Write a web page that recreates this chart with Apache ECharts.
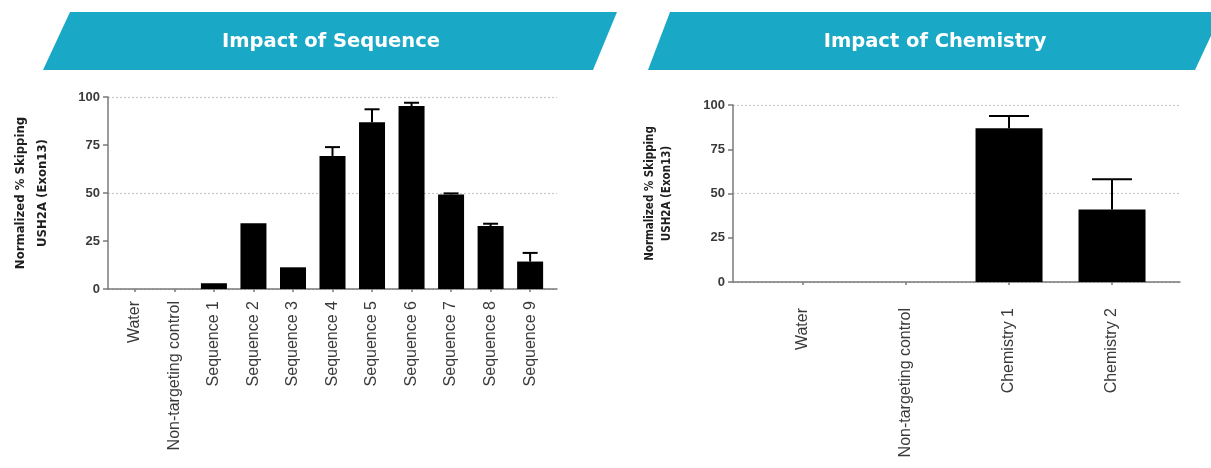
<!DOCTYPE html>
<html>
<head>
<meta charset="utf-8">
<script src="https://cdn.jsdelivr.net/npm/echarts@6/dist/echarts.min.js"></script>
<style>
  html, body { margin: 0; padding: 0; background: #fff; }
  #chart { width: 1211px; height: 468px; }
</style>
</head>
<body>
<div id="chart"></div>
<script>
// Panel titles
const panelTitles = ['Impact of Sequence', 'Impact of Chemistry'];
const yAxisTitle = 'Normalized % Skipping\nUSH2A (Exon13)';
const yTicks = [0, 25, 50, 75, 100];

// Left panel: sequence screen (mean and SEM, % skipping)
const seqCategories = ['Water', 'Non-targeting control', 'Sequence 1', 'Sequence 2', 'Sequence 3',
  'Sequence 4', 'Sequence 5', 'Sequence 6', 'Sequence 7', 'Sequence 8', 'Sequence 9'];
const seqMeans = [0, 0, 3.0, 34.2, 11.3, 69.3, 86.8, 95.3, 49.2, 32.8, 14.3];
const seqErrors = [0, 0, 0, 0, 0, 4.6, 6.8, 1.7, 0.6, 1.2, 4.5];

// Right panel: chemistry comparison
const chemCategories = ['Water', 'Non-targeting control', 'Chemistry 1', 'Chemistry 2'];
const chemMeans = [0, 0, 86.8, 40.9];
const chemErrors = [0, 0, 7.0, 17.2];

const teal = '#19a8c5';
const axisGrey = '#7a7a7a';
const narrowFont = '"DejaVu Sans Condensed", "Liberation Sans Narrow", "Liberation Sans", sans-serif';
const labelFont = '"Liberation Sans", Arial, sans-serif';

const chart = echarts.init(document.getElementById('chart'), null, { renderer: 'canvas' });

function indexList(cats) { return cats.map((_, i) => i); }

function xAxisFor(gridIndex, cats, maxPad, margin) {
  const idx = indexList(cats);
  return {
    type: 'value', gridIndex: gridIndex,
    min: -0.68, max: cats.length - 1 + maxPad,
    axisLine: { show: true, onZero: false, lineStyle: { color: axisGrey, width: 1.5 } },
    axisTick: { show: true, customValues: idx, length: 3, lineStyle: { color: axisGrey, width: 1.5 } },
    axisLabel: {
      show: true, customValues: idx, rotate: 90, margin: margin,
      formatter: v => cats[Math.round(v)] || '',
      fontFamily: labelFont, fontSize: 16, color: '#3a3a3a'
    },
    splitLine: { show: false }
  };
}

function yAxisFor(gridIndex, nameSize, nameLine, nameGap) {
  return {
    type: 'value', gridIndex: gridIndex, min: yTicks[0], max: yTicks[yTicks.length - 1], interval: 25,
    name: yAxisTitle, nameLocation: 'middle', nameRotate: 90, nameGap: nameGap,
    nameTextStyle: { fontFamily: narrowFont, fontWeight: 'bold', fontSize: nameSize, lineHeight: nameLine, color: '#1e1e1e', align: 'center' },
    axisLine: { show: true, onZero: false, lineStyle: { color: axisGrey, width: 1.5 } },
    axisTick: { show: true, length: 5, lineStyle: { color: axisGrey, width: 1.5 } },
    axisLabel: { fontFamily: labelFont, fontWeight: 'bold', fontSize: 13, color: '#3a3a3a', margin: 8 },
    splitLine: { show: false }
  };
}

// Hidden companion axis that only draws the dotted guide lines at 50 and 100
function guideAxisFor(gridIndex) {
  return {
    type: 'value', gridIndex: gridIndex, min: 0, max: 100, interval: 50,
    axisLine: { show: false }, axisTick: { show: false }, axisLabel: { show: false },
    splitLine: { show: true, lineStyle: { color: '#c8c8c8', type: [2, 2], width: 1.2 } }
  };
}

function barSeries(axisIdx, means, width) {
  return {
    type: 'bar', xAxisIndex: axisIdx, yAxisIndex: axisIdx * 2,
    data: means.map((v, i) => [i, v]),
    barWidth: width,
    itemStyle: { color: '#000' },
    z: 3
  };
}

function errorSeries(axisIdx, means, errs, capWidth) {
  return {
    type: 'custom', xAxisIndex: axisIdx, yAxisIndex: axisIdx * 2,
    data: means.map((v, i) => [i, v, v + errs[i]]),
    encode: { x: 0, y: [1, 2] },
    z: 4,
    renderItem: function (params, api) {
      const i = api.value(0), lo = api.value(1), hi = api.value(2);
      if (hi <= lo) return null;
      const a = api.coord([i, lo]);
      const b = api.coord([i, hi]);
      const style = { stroke: '#000', lineWidth: 2 };
      return {
        type: 'group',
        children: [
          { type: 'line', shape: { x1: a[0], y1: a[1], x2: b[0], y2: b[1] }, style: style },
          { type: 'line', shape: { x1: b[0] - capWidth / 2, y1: b[1], x2: b[0] + capWidth / 2, y2: b[1] }, style: style }
        ]
      };
    }
  };
}

function banner(pts, cx, text) {
  return [
    { type: 'polygon', shape: { points: pts }, style: { fill: teal }, z: 1 },
    { type: 'text', x: cx, y: 42, z: 2,
      style: { text: text, fill: '#fff', font: 'bold 19.5px "DejaVu Sans", Verdana, sans-serif', textAlign: 'center', textVerticalAlign: 'middle' } }
  ];
}

const option = {
  animation: false,
  backgroundColor: '#fff',
  grid: [
    { left: 108, right: 1211 - 557, top: 97, bottom: 468 - 289, containLabel: false },
    { left: 733, right: 1211 - 1180, top: 105, bottom: 468 - 282, containLabel: false }
  ],
  xAxis: [
    xAxisFor(0, seqCategories, 0.68, 12),
    xAxisFor(1, chemCategories, 0.66, 26)
  ],
  yAxis: [
    yAxisFor(0, 13, 22, 54),
    guideAxisFor(0),
    yAxisFor(1, 11.5, 17, 57),
    guideAxisFor(1)
  ],
  series: [
    barSeries(0, seqMeans, 26),
    errorSeries(0, seqMeans, seqErrors, 15),
    barSeries(1, chemMeans, 67),
    errorSeries(1, chemMeans, chemErrors, 40)
  ],
  graphic: [].concat(
    banner([[70, 12], [617, 12], [593, 70], [43, 70]], 331, panelTitles[0]),
    banner([[670, 12], [1222, 12], [1195, 70], [648, 70]], 935, panelTitles[1])
  )
};

chart.setOption(option);
</script>
</body>
</html>
